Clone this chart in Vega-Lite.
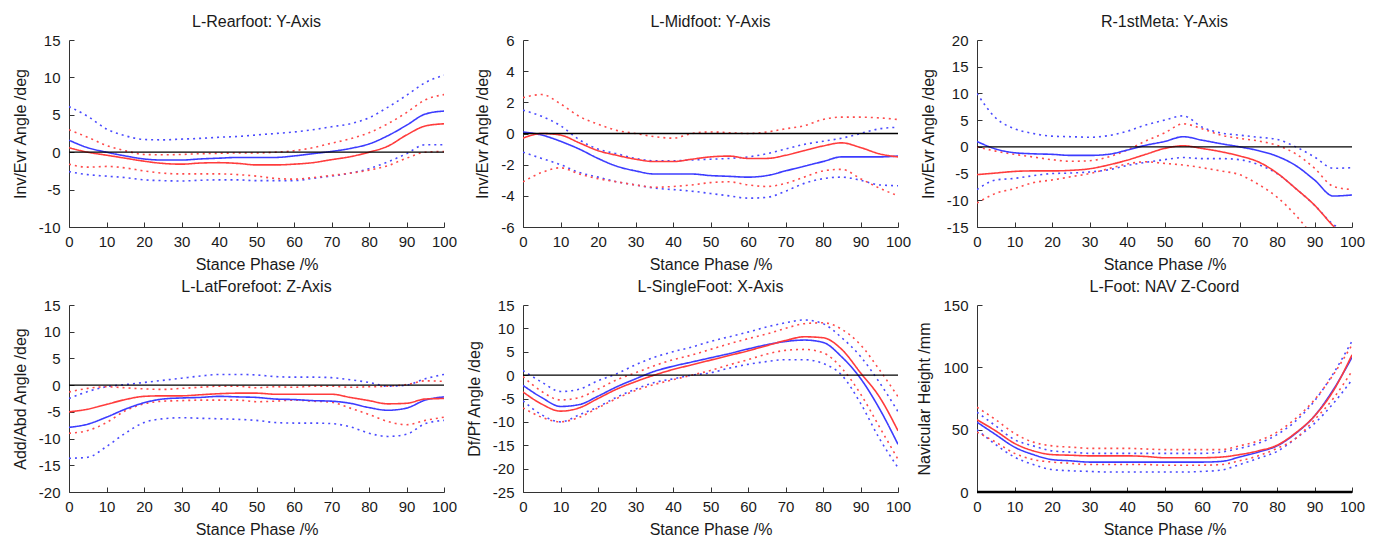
{
  "$schema": "https://vega.github.io/schema/vega-lite/v6.json",
  "background": "white",
  "padding": {"left": 12, "top": 14, "right": 5, "bottom": 5},
  "config": {
    "view": {"stroke": null},
    "font": "Liberation Sans",
    "title": {"font": "Liberation Sans", "fontSize": 16, "fontWeight": "normal", "color": "#1a1a1a", "offset": 3},
    "axis": {"labelFont": "Liberation Sans", "titleFont": "Liberation Sans", "labelFontSize": 15, "titleFontSize": 16, "titleFontWeight": "normal", "labelColor": "#1a1a1a", "titleColor": "#1a1a1a", "domainColor": "#333333", "tickColor": "#333333", "tickSize": -5, "labelPadding": 12, "grid": false, "tickCount": 30, "labelOverlap": false},
    "axisX": {"titlePadding": 7, "labelFlush": false},
    "axisY": {"titlePadding": 10, "labelPadding": 14},
    "rule": {"color": "#000000", "strokeWidth": 1.3}
  },
  "datasets": {
    "curves": [
      {"p":1,"x":0,"bm":1.6,"bu":6.1,"bl":-2.6,"rm":0.6,"ru":3.0,"rl":-1.6},
      {"p":1,"x":5,"bm":0.6,"bu":4.8,"bl":-3.0,"rm":0.0,"ru":2.0,"rl":-2.0},
      {"p":1,"x":10,"bm":0.0,"bu":3.1,"bl":-3.2,"rm":-0.4,"ru":0.9,"rl":-1.9},
      {"p":1,"x":15,"bm":-0.5,"bu":2.2,"bl":-3.4,"rm":-0.8,"ru":0.2,"rl":-2.1},
      {"p":1,"x":20,"bm":-0.9,"bu":1.7,"bl":-3.7,"rm":-1.2,"ru":-0.3,"rl":-2.5},
      {"p":1,"x":25,"bm":-1.05,"bu":1.65,"bl":-3.8,"rm":-1.5,"ru":-0.35,"rl":-2.8},
      {"p":1,"x":30,"bm":-1.05,"bu":1.75,"bl":-3.85,"rm":-1.6,"ru":-0.3,"rl":-2.9},
      {"p":1,"x":35,"bm":-0.9,"bu":1.85,"bl":-3.75,"rm":-1.45,"ru":-0.2,"rl":-2.9},
      {"p":1,"x":40,"bm":-0.8,"bu":2.0,"bl":-3.7,"rm":-1.4,"ru":-0.15,"rl":-2.9},
      {"p":1,"x":45,"bm":-0.7,"bu":2.1,"bl":-3.7,"rm":-1.5,"ru":-0.1,"rl":-3.0},
      {"p":1,"x":50,"bm":-0.7,"bu":2.3,"bl":-3.8,"rm":-1.7,"ru":-0.1,"rl":-3.2},
      {"p":1,"x":55,"bm":-0.7,"bu":2.5,"bl":-3.8,"rm":-1.7,"ru":0.0,"rl":-3.5},
      {"p":1,"x":60,"bm":-0.5,"bu":2.7,"bl":-3.8,"rm":-1.6,"ru":0.2,"rl":-3.6},
      {"p":1,"x":65,"bm":-0.2,"bu":3.0,"bl":-3.5,"rm":-1.4,"ru":0.6,"rl":-3.4},
      {"p":1,"x":70,"bm":0.1,"bu":3.4,"bl":-3.2,"rm":-1.0,"ru":1.2,"rl":-3.1},
      {"p":1,"x":75,"bm":0.5,"bu":3.8,"bl":-2.8,"rm":-0.6,"ru":1.8,"rl":-2.8},
      {"p":1,"x":80,"bm":1.1,"bu":4.6,"bl":-2.2,"rm":0.0,"ru":2.6,"rl":-2.4},
      {"p":1,"x":85,"bm":2.2,"bu":6.0,"bl":-1.3,"rm":0.8,"ru":3.8,"rl":-1.8},
      {"p":1,"x":90,"bm":3.6,"bu":7.6,"bl":-0.2,"rm":2.3,"ru":5.3,"rl":-0.8},
      {"p":1,"x":95,"bm":5.1,"bu":9.3,"bl":1.0,"rm":3.5,"ru":7.0,"rl":0.0},
      {"p":1,"x":100,"bm":5.5,"bu":10.3,"bl":1.0,"rm":3.8,"ru":7.7,"rl":0.1},

      {"p":2,"x":0,"bm":0.1,"bu":1.5,"bl":-1.2,"rm":-0.3,"ru":2.3,"rl":-3.1},
      {"p":2,"x":5,"bm":-0.1,"bu":1.1,"bl":-1.6,"rm":0.0,"ru":2.5,"rl":-2.5},
      {"p":2,"x":10,"bm":-0.5,"bu":0.5,"bl":-2.0,"rm":-0.1,"ru":1.9,"rl":-2.2},
      {"p":2,"x":15,"bm":-1.0,"bu":-0.4,"bl":-2.5,"rm":-0.6,"ru":1.1,"rl":-2.6},
      {"p":2,"x":20,"bm":-1.6,"bu":-1.0,"bl":-2.8,"rm":-1.1,"ru":0.6,"rl":-2.9},
      {"p":2,"x":25,"bm":-2.1,"bu":-1.3,"bl":-3.1,"rm":-1.4,"ru":0.2,"rl":-3.1},
      {"p":2,"x":30,"bm":-2.4,"bu":-1.6,"bl":-3.3,"rm":-1.65,"ru":0.0,"rl":-3.3},
      {"p":2,"x":35,"bm":-2.6,"bu":-1.75,"bl":-3.5,"rm":-1.8,"ru":-0.2,"rl":-3.45},
      {"p":2,"x":40,"bm":-2.6,"bu":-1.75,"bl":-3.6,"rm":-1.8,"ru":-0.3,"rl":-3.4},
      {"p":2,"x":45,"bm":-2.6,"bu":-1.7,"bl":-3.7,"rm":-1.65,"ru":0.0,"rl":-3.3},
      {"p":2,"x":50,"bm":-2.7,"bu":-1.65,"bl":-3.85,"rm":-1.5,"ru":0.1,"rl":-3.15},
      {"p":2,"x":55,"bm":-2.75,"bu":-1.6,"bl":-4.0,"rm":-1.45,"ru":0.05,"rl":-3.1},
      {"p":2,"x":60,"bm":-2.8,"bu":-1.5,"bl":-4.15,"rm":-1.6,"ru":0.0,"rl":-3.3},
      {"p":2,"x":65,"bm":-2.7,"bu":-1.3,"bl":-4.1,"rm":-1.6,"ru":0.1,"rl":-3.4},
      {"p":2,"x":70,"bm":-2.4,"bu":-1.0,"bl":-3.7,"rm":-1.4,"ru":0.3,"rl":-3.2},
      {"p":2,"x":75,"bm":-2.1,"bu":-0.7,"bl":-3.2,"rm":-1.1,"ru":0.5,"rl":-2.8},
      {"p":2,"x":80,"bm":-1.8,"bu":-0.5,"bl":-2.9,"rm":-0.8,"ru":0.9,"rl":-2.4},
      {"p":2,"x":85,"bm":-1.5,"bu":-0.3,"bl":-2.8,"rm":-0.6,"ru":1.05,"rl":-2.3},
      {"p":2,"x":90,"bm":-1.5,"bu":0.0,"bl":-3.0,"rm":-0.9,"ru":1.05,"rl":-2.9},
      {"p":2,"x":95,"bm":-1.5,"bu":0.3,"bl":-3.3,"rm":-1.3,"ru":1.0,"rl":-3.5},
      {"p":2,"x":100,"bm":-1.45,"bu":0.4,"bl":-3.35,"rm":-1.5,"ru":0.9,"rl":-4.0},

      {"p":3,"x":0,"bm":1.0,"bu":10.0,"bl":-8.0,"rm":-5.2,"ru":0.0,"rl":-10.5},
      {"p":3,"x":5,"bm":-0.4,"bu":5.4,"bl":-6.2,"rm":-4.9,"ru":-0.8,"rl":-8.7},
      {"p":3,"x":10,"bm":-1.1,"bu":3.4,"bl":-5.9,"rm":-4.6,"ru":-1.4,"rl":-7.8},
      {"p":3,"x":15,"bm":-1.3,"bu":2.5,"bl":-5.4,"rm":-4.5,"ru":-1.9,"rl":-6.7},
      {"p":3,"x":20,"bm":-1.4,"bu":2.0,"bl":-5.0,"rm":-4.5,"ru":-2.4,"rl":-6.2},
      {"p":3,"x":25,"bm":-1.6,"bu":1.9,"bl":-4.9,"rm":-4.4,"ru":-2.7,"rl":-5.6},
      {"p":3,"x":30,"bm":-1.6,"bu":1.8,"bl":-4.7,"rm":-4.1,"ru":-2.6,"rl":-5.0},
      {"p":3,"x":35,"bm":-1.4,"bu":2.1,"bl":-4.3,"rm":-3.4,"ru":-1.9,"rl":-4.1},
      {"p":3,"x":40,"bm":-0.6,"bu":2.9,"bl":-3.5,"rm":-2.5,"ru":-0.6,"rl":-3.2},
      {"p":3,"x":45,"bm":0.3,"bu":4.1,"bl":-2.9,"rm":-1.4,"ru":1.1,"rl":-2.8},
      {"p":3,"x":50,"bm":1.0,"bu":5.0,"bl":-2.4,"rm":-0.3,"ru":2.6,"rl":-3.1},
      {"p":3,"x":55,"bm":1.9,"bu":5.8,"bl":-2.0,"rm":0.2,"ru":4.3,"rl":-3.4},
      {"p":3,"x":60,"bm":1.25,"bu":3.7,"bl":-2.2,"rm":-0.3,"ru":3.4,"rl":-3.9},
      {"p":3,"x":65,"bm":0.6,"bu":2.6,"bl":-2.2,"rm":-0.9,"ru":2.2,"rl":-4.5},
      {"p":3,"x":70,"bm":0.0,"bu":2.2,"bl":-2.4,"rm":-1.7,"ru":1.6,"rl":-5.2},
      {"p":3,"x":75,"bm":-0.7,"bu":1.8,"bl":-3.3,"rm":-2.8,"ru":1.1,"rl":-7.0},
      {"p":3,"x":80,"bm":-1.75,"bu":1.4,"bl":-5.0,"rm":-4.9,"ru":0.3,"rl":-9.4},
      {"p":3,"x":85,"bm":-3.5,"bu":0.0,"bl":-7.8,"rm":-7.8,"ru":-1.3,"rl":-12.8},
      {"p":3,"x":90,"bm":-6.2,"bu":-1.9,"bl":-10.9,"rm":-10.9,"ru":-4.0,"rl":-17.0},
      {"p":3,"x":95,"bm":-9.2,"bu":-4.0,"bl":-14.5,"rm":-14.8,"ru":-7.4,"rl":-21.0},
      {"p":3,"x":100,"bm":-9.0,"bu":-3.9,"bl":-16.0,"rm":-18.0,"ru":-8.0,"rl":-24.0},

      {"p":4,"x":0,"bm":-7.9,"bu":-2.5,"bl":-13.7,"rm":-5.0,"ru":-1.3,"rl":-9.0},
      {"p":4,"x":5,"bm":-7.3,"bu":-1.2,"bl":-13.5,"rm":-4.5,"ru":-0.6,"rl":-8.5},
      {"p":4,"x":10,"bm":-6.0,"bu":-0.3,"bl":-11.5,"rm":-3.6,"ru":-0.3,"rl":-7.0},
      {"p":4,"x":15,"bm":-4.5,"bu":0.1,"bl":-9.0,"rm":-2.7,"ru":-0.5,"rl":-4.8},
      {"p":4,"x":20,"bm":-3.3,"bu":0.5,"bl":-7.0,"rm":-2.1,"ru":-0.7,"rl":-3.5},
      {"p":4,"x":25,"bm":-2.6,"bu":0.9,"bl":-6.3,"rm":-2.0,"ru":-0.8,"rl":-3.0},
      {"p":4,"x":30,"bm":-2.4,"bu":1.3,"bl":-6.1,"rm":-2.0,"ru":-0.6,"rl":-2.9},
      {"p":4,"x":35,"bm":-2.3,"bu":1.7,"bl":-6.2,"rm":-1.8,"ru":-0.4,"rl":-2.8},
      {"p":4,"x":40,"bm":-2.1,"bu":2.0,"bl":-6.3,"rm":-1.6,"ru":-0.2,"rl":-2.8},
      {"p":4,"x":45,"bm":-2.2,"bu":2.0,"bl":-6.4,"rm":-1.5,"ru":-0.2,"rl":-2.8},
      {"p":4,"x":50,"bm":-2.3,"bu":1.9,"bl":-6.6,"rm":-1.5,"ru":-0.5,"rl":-3.1},
      {"p":4,"x":55,"bm":-2.6,"bu":1.6,"bl":-7.0,"rm":-1.7,"ru":-0.3,"rl":-3.0},
      {"p":4,"x":60,"bm":-2.7,"bu":1.5,"bl":-7.1,"rm":-1.7,"ru":-0.4,"rl":-2.8},
      {"p":4,"x":65,"bm":-2.9,"bu":1.5,"bl":-7.1,"rm":-1.7,"ru":-0.2,"rl":-3.0},
      {"p":4,"x":70,"bm":-3.0,"bu":1.4,"bl":-7.2,"rm":-1.7,"ru":-0.2,"rl":-3.2},
      {"p":4,"x":75,"bm":-3.4,"bu":1.0,"bl":-7.8,"rm":-2.3,"ru":-0.4,"rl":-4.3},
      {"p":4,"x":80,"bm":-4.2,"bu":0.5,"bl":-9.0,"rm":-2.9,"ru":-0.3,"rl":-5.5},
      {"p":4,"x":85,"bm":-4.7,"bu":-0.2,"bl":-9.6,"rm":-3.5,"ru":-0.2,"rl":-6.8},
      {"p":4,"x":90,"bm":-4.3,"bu":0.0,"bl":-9.2,"rm":-3.4,"ru":0.1,"rl":-7.4},
      {"p":4,"x":95,"bm":-2.8,"bu":1.2,"bl":-7.2,"rm":-2.6,"ru":0.8,"rl":-6.6},
      {"p":4,"x":100,"bm":-2.2,"bu":2.0,"bl":-6.6,"rm":-2.5,"ru":0.7,"rl":-6.0},

      {"p":5,"x":0,"bm":-2.2,"bu":1.0,"bl":-5.5,"rm":-3.6,"ru":-0.3,"rl":-7.0},
      {"p":5,"x":5,"bm":-4.8,"bu":-1.5,"bl":-8.5,"rm":-6.2,"ru":-3.5,"rl":-9.0},
      {"p":5,"x":10,"bm":-6.7,"bu":-3.5,"bl":-10.0,"rm":-7.7,"ru":-5.3,"rl":-10.0},
      {"p":5,"x":15,"bm":-6.3,"bu":-3.0,"bl":-8.5,"rm":-7.0,"ru":-4.8,"rl":-9.0},
      {"p":5,"x":20,"bm":-4.5,"bu":-1.2,"bl":-6.8,"rm":-5.0,"ru":-3.0,"rl":-7.0},
      {"p":5,"x":25,"bm":-2.5,"bu":0.3,"bl":-4.7,"rm":-3.0,"ru":-1.0,"rl":-5.0},
      {"p":5,"x":30,"bm":-0.8,"bu":2.2,"bl":-3.0,"rm":-1.4,"ru":0.5,"rl":-3.3},
      {"p":5,"x":35,"bm":0.8,"bu":3.8,"bl":-1.6,"rm":0.0,"ru":2.0,"rl":-2.0},
      {"p":5,"x":40,"bm":1.9,"bu":5.0,"bl":-0.8,"rm":1.2,"ru":3.3,"rl":-1.0},
      {"p":5,"x":45,"bm":2.8,"bu":6.0,"bl":0.0,"rm":2.2,"ru":4.3,"rl":0.0},
      {"p":5,"x":50,"bm":3.7,"bu":7.2,"bl":0.5,"rm":3.2,"ru":5.5,"rl":1.0},
      {"p":5,"x":55,"bm":4.6,"bu":8.2,"bl":1.5,"rm":4.2,"ru":6.7,"rl":2.2},
      {"p":5,"x":60,"bm":5.6,"bu":9.2,"bl":2.3,"rm":5.2,"ru":7.8,"rl":3.3},
      {"p":5,"x":65,"bm":6.5,"bu":10.3,"bl":2.9,"rm":6.3,"ru":8.8,"rl":4.5},
      {"p":5,"x":70,"bm":7.2,"bu":11.2,"bl":3.3,"rm":7.4,"ru":10.0,"rl":5.3},
      {"p":5,"x":75,"bm":7.5,"bu":11.8,"bl":3.3,"rm":8.2,"ru":11.0,"rl":5.5},
      {"p":5,"x":80,"bm":7.0,"bu":11.0,"bl":2.5,"rm":8.0,"ru":11.2,"rl":4.8},
      {"p":5,"x":85,"bm":3.9,"bu":8.0,"bl":0.0,"rm":5.5,"ru":9.8,"rl":1.5},
      {"p":5,"x":90,"bm":-0.7,"bu":4.0,"bl":-6.0,"rm":0.5,"ru":6.5,"rl":-4.0},
      {"p":5,"x":95,"bm":-7.1,"bu":-1.5,"bl":-13.5,"rm":-4.6,"ru":1.2,"rl":-11.0},
      {"p":5,"x":100,"bm":-14.8,"bu":-7.8,"bl":-19.8,"rm":-11.9,"ru":-4.6,"rl":-18.0},

      {"p":6,"x":0,"bm":56,"bu":64,"bl":50,"rm":58,"ru":68,"rl":48},
      {"p":6,"x":5,"bm":46,"bu":53,"bl":38,"rm":49,"ru":58,"rl":40},
      {"p":6,"x":10,"bm":36,"bu":42,"bl":28,"rm":39,"ru":47,"rl":31},
      {"p":6,"x":15,"bm":30,"bu":37,"bl":22,"rm":33,"ru":40,"rl":26},
      {"p":6,"x":20,"bm":26,"bu":33,"bl":18,"rm":30,"ru":37,"rl":24},
      {"p":6,"x":25,"bm":25,"bu":32,"bl":17,"rm":29.5,"ru":36,"rl":23},
      {"p":6,"x":30,"bm":24,"bu":31,"bl":16.5,"rm":29,"ru":35,"rl":22},
      {"p":6,"x":35,"bm":24,"bu":31,"bl":16,"rm":29,"ru":35,"rl":22},
      {"p":6,"x":40,"bm":24,"bu":31,"bl":16,"rm":29,"ru":35,"rl":22},
      {"p":6,"x":45,"bm":24,"bu":31,"bl":16,"rm":28.5,"ru":34.5,"rl":22},
      {"p":6,"x":50,"bm":24,"bu":31,"bl":16,"rm":27.5,"ru":34,"rl":21.5},
      {"p":6,"x":55,"bm":24,"bu":31,"bl":16,"rm":27.5,"ru":34,"rl":21.5},
      {"p":6,"x":60,"bm":24,"bu":31,"bl":16.5,"rm":27.5,"ru":34,"rl":21.5},
      {"p":6,"x":65,"bm":24.5,"bu":32,"bl":17.5,"rm":28,"ru":34,"rl":22},
      {"p":6,"x":70,"bm":28,"bu":35,"bl":22,"rm":30,"ru":37,"rl":25},
      {"p":6,"x":75,"bm":32,"bu":39,"bl":27,"rm":33,"ru":41,"rl":29},
      {"p":6,"x":80,"bm":37,"bu":46,"bl":32.5,"rm":37.5,"ru":48,"rl":35},
      {"p":6,"x":85,"bm":47,"bu":57,"bl":43,"rm":47.5,"ru":59,"rl":43},
      {"p":6,"x":90,"bm":61,"bu":73,"bl":55,"rm":61,"ru":74,"rl":58},
      {"p":6,"x":95,"bm":82,"bu":95,"bl":71,"rm":81,"ru":94,"rl":75},
      {"p":6,"x":100,"bm":108,"bu":121,"bl":90,"rm":110,"ru":118,"rl":97}
    ],
    "zero": [{"z": 0}]
  },
  "columns": 3,
  "spacing": {"row": 78, "column": 79},
  "bounds": "flush",
  "resolve": {"scale": {"x": "independent", "y": "independent"}},
  "concat": [
    {
      "width": 375, "height": 187, "title": "L-Rearfoot: Y-Axis",
      "layer": [
        {"data": {"name": "curves"}, "transform": [{"filter": "datum.p == 1"}, {"fold": ["bu","bl","ru","rl","bm","rm"], "as": ["s","v"]}],
         "mark": {"type": "line", "clip": true, "interpolate": "monotone", "strokeWidth": 1.6},
         "encoding": {
           "x": {"field": "x", "type": "quantitative", "scale": {"domain": [0,100], "nice": false, "zero": false}, "axis": {"values": [0,10,20,30,40,50,60,70,80,90,100], "tickCount": 30, "title": "Stance Phase /%", "labelExpr": "'' + datum.value"}},
           "y": {"field": "v", "type": "quantitative", "scale": {"domain": [-10,15], "nice": false, "zero": false}, "axis": {"values": [-10,-5,0,5,10,15], "tickCount": 30, "title": "Inv/Evr Angle /deg", "labelExpr": "'' + datum.value"}},
           "color": {"field": "s", "type": "nominal", "scale": {"domain": ["bm","bu","bl","rm","ru","rl"], "range": ["#3c3cff","#4a4aff","#4a4aff","#ff3c3c","#ff4a4a","#ff4a4a"]}, "legend": null},
           "strokeDash": {"field": "s", "type": "nominal", "scale": {"domain": ["bm","bu","bl","rm","ru","rl"], "range": [[1,0],[2,4],[2,4],[1,0],[2,4],[2,4]]}, "legend": null}
         }},
        {"data": {"name": "zero"}, "mark": {"type": "rule"}, "encoding": {"y": {"field": "z", "type": "quantitative"}}}
      ]
    },
    {
      "width": 375, "height": 187, "title": "L-Midfoot: Y-Axis",
      "layer": [
        {"data": {"name": "curves"}, "transform": [{"filter": "datum.p == 2"}, {"fold": ["bu","bl","ru","rl","bm","rm"], "as": ["s","v"]}],
         "mark": {"type": "line", "clip": true, "interpolate": "monotone", "strokeWidth": 1.6},
         "encoding": {
           "x": {"field": "x", "type": "quantitative", "scale": {"domain": [0,100], "nice": false, "zero": false}, "axis": {"values": [0,10,20,30,40,50,60,70,80,90,100], "tickCount": 30, "title": "Stance Phase /%", "labelExpr": "'' + datum.value"}},
           "y": {"field": "v", "type": "quantitative", "scale": {"domain": [-6,6], "nice": false, "zero": false}, "axis": {"values": [-6,-4,-2,0,2,4,6], "tickCount": 30, "title": "Inv/Evr Angle /deg", "labelExpr": "'' + datum.value"}},
           "color": {"field": "s", "type": "nominal", "scale": {"domain": ["bm","bu","bl","rm","ru","rl"], "range": ["#3c3cff","#4a4aff","#4a4aff","#ff3c3c","#ff4a4a","#ff4a4a"]}, "legend": null},
           "strokeDash": {"field": "s", "type": "nominal", "scale": {"domain": ["bm","bu","bl","rm","ru","rl"], "range": [[1,0],[2,4],[2,4],[1,0],[2,4],[2,4]]}, "legend": null}
         }},
        {"data": {"name": "zero"}, "mark": {"type": "rule"}, "encoding": {"y": {"field": "z", "type": "quantitative"}}}
      ]
    },
    {
      "width": 375, "height": 187, "title": "R-1stMeta: Y-Axis",
      "layer": [
        {"data": {"name": "curves"}, "transform": [{"filter": "datum.p == 3"}, {"fold": ["bu","bl","ru","rl","bm","rm"], "as": ["s","v"]}],
         "mark": {"type": "line", "clip": true, "interpolate": "monotone", "strokeWidth": 1.6},
         "encoding": {
           "x": {"field": "x", "type": "quantitative", "scale": {"domain": [0,100], "nice": false, "zero": false}, "axis": {"values": [0,10,20,30,40,50,60,70,80,90,100], "tickCount": 30, "title": "Stance Phase /%", "labelExpr": "'' + datum.value"}},
           "y": {"field": "v", "type": "quantitative", "scale": {"domain": [-15,20], "nice": false, "zero": false}, "axis": {"values": [-15,-10,-5,0,5,10,15,20], "tickCount": 30, "title": "Inv/Evr Angle /deg", "labelExpr": "'' + datum.value"}},
           "color": {"field": "s", "type": "nominal", "scale": {"domain": ["bm","bu","bl","rm","ru","rl"], "range": ["#3c3cff","#4a4aff","#4a4aff","#ff3c3c","#ff4a4a","#ff4a4a"]}, "legend": null},
           "strokeDash": {"field": "s", "type": "nominal", "scale": {"domain": ["bm","bu","bl","rm","ru","rl"], "range": [[1,0],[2,4],[2,4],[1,0],[2,4],[2,4]]}, "legend": null}
         }},
        {"data": {"name": "zero"}, "mark": {"type": "rule"}, "encoding": {"y": {"field": "z", "type": "quantitative"}}}
      ]
    },
    {
      "width": 375, "height": 187, "title": "L-LatForefoot: Z-Axis",
      "layer": [
        {"data": {"name": "curves"}, "transform": [{"filter": "datum.p == 4"}, {"fold": ["bu","bl","ru","rl","bm","rm"], "as": ["s","v"]}],
         "mark": {"type": "line", "clip": true, "interpolate": "monotone", "strokeWidth": 1.6},
         "encoding": {
           "x": {"field": "x", "type": "quantitative", "scale": {"domain": [0,100], "nice": false, "zero": false}, "axis": {"values": [0,10,20,30,40,50,60,70,80,90,100], "tickCount": 30, "title": "Stance Phase /%", "labelExpr": "'' + datum.value"}},
           "y": {"field": "v", "type": "quantitative", "scale": {"domain": [-20,15], "nice": false, "zero": false}, "axis": {"values": [-20,-15,-10,-5,0,5,10,15], "tickCount": 30, "title": "Add/Abd Angle /deg", "labelExpr": "'' + datum.value"}},
           "color": {"field": "s", "type": "nominal", "scale": {"domain": ["bm","bu","bl","rm","ru","rl"], "range": ["#3c3cff","#4a4aff","#4a4aff","#ff3c3c","#ff4a4a","#ff4a4a"]}, "legend": null},
           "strokeDash": {"field": "s", "type": "nominal", "scale": {"domain": ["bm","bu","bl","rm","ru","rl"], "range": [[1,0],[2,4],[2,4],[1,0],[2,4],[2,4]]}, "legend": null}
         }},
        {"data": {"name": "zero"}, "mark": {"type": "rule"}, "encoding": {"y": {"field": "z", "type": "quantitative"}}}
      ]
    },
    {
      "width": 375, "height": 187, "title": "L-SingleFoot: X-Axis",
      "layer": [
        {"data": {"name": "curves"}, "transform": [{"filter": "datum.p == 5"}, {"fold": ["bu","bl","ru","rl","bm","rm"], "as": ["s","v"]}],
         "mark": {"type": "line", "clip": true, "interpolate": "monotone", "strokeWidth": 1.6},
         "encoding": {
           "x": {"field": "x", "type": "quantitative", "scale": {"domain": [0,100], "nice": false, "zero": false}, "axis": {"values": [0,10,20,30,40,50,60,70,80,90,100], "tickCount": 30, "title": "Stance Phase /%", "labelExpr": "'' + datum.value"}},
           "y": {"field": "v", "type": "quantitative", "scale": {"domain": [-25,15], "nice": false, "zero": false}, "axis": {"values": [-25,-20,-15,-10,-5,0,5,10,15], "tickCount": 30, "title": "Df/Pf Angle /deg", "labelExpr": "'' + datum.value"}},
           "color": {"field": "s", "type": "nominal", "scale": {"domain": ["bm","bu","bl","rm","ru","rl"], "range": ["#3c3cff","#4a4aff","#4a4aff","#ff3c3c","#ff4a4a","#ff4a4a"]}, "legend": null},
           "strokeDash": {"field": "s", "type": "nominal", "scale": {"domain": ["bm","bu","bl","rm","ru","rl"], "range": [[1,0],[2,4],[2,4],[1,0],[2,4],[2,4]]}, "legend": null}
         }},
        {"data": {"name": "zero"}, "mark": {"type": "rule"}, "encoding": {"y": {"field": "z", "type": "quantitative"}}}
      ]
    },
    {
      "width": 375, "height": 187, "title": "L-Foot: NAV Z-Coord",
      "layer": [
        {"data": {"name": "curves"}, "transform": [{"filter": "datum.p == 6"}, {"fold": ["bu","bl","ru","rl","bm","rm"], "as": ["s","v"]}],
         "mark": {"type": "line", "clip": true, "interpolate": "monotone", "strokeWidth": 1.6},
         "encoding": {
           "x": {"field": "x", "type": "quantitative", "scale": {"domain": [0,100], "nice": false, "zero": false}, "axis": {"values": [0,10,20,30,40,50,60,70,80,90,100], "tickCount": 30, "title": "Stance Phase /%", "labelExpr": "'' + datum.value"}},
           "y": {"field": "v", "type": "quantitative", "scale": {"domain": [0,150], "nice": false, "zero": false}, "axis": {"values": [0,50,100,150], "tickCount": 30, "title": "Navicular Height /mm", "labelExpr": "'' + datum.value"}},
           "color": {"field": "s", "type": "nominal", "scale": {"domain": ["bm","bu","bl","rm","ru","rl"], "range": ["#3c3cff","#4a4aff","#4a4aff","#ff3c3c","#ff4a4a","#ff4a4a"]}, "legend": null},
           "strokeDash": {"field": "s", "type": "nominal", "scale": {"domain": ["bm","bu","bl","rm","ru","rl"], "range": [[1,0],[2,4],[2,4],[1,0],[2,4],[2,4]]}, "legend": null}
         }},
        {"data": {"name": "zero"}, "mark": {"type": "rule", "strokeWidth": 2.5}, "encoding": {"y": {"field": "z", "type": "quantitative"}}}
      ]
    }
  ]
}
